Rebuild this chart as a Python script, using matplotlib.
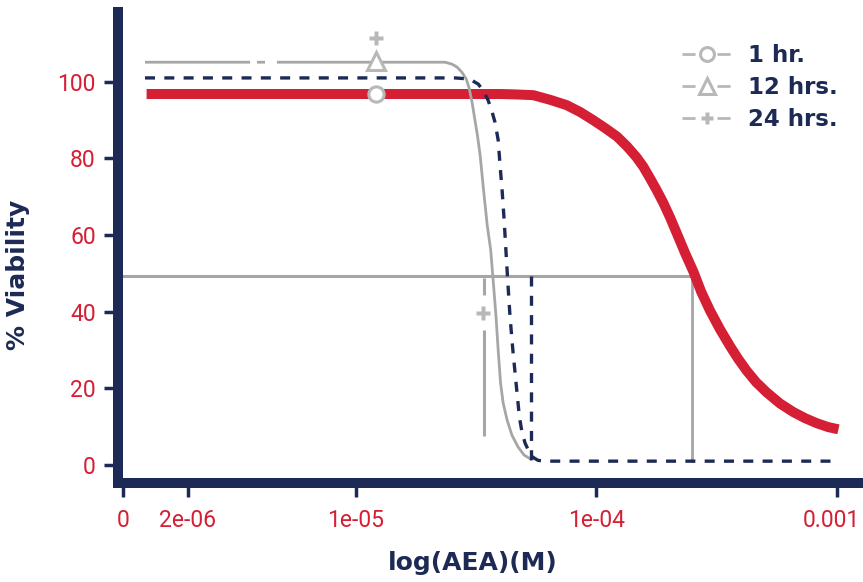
### plot.py
## dose-response chart: % viability vs log(AEA)(M), three exposure times
import matplotlib
matplotlib.use("Agg")
import matplotlib.pyplot as plt
import matplotlib.transforms as mtransforms
from matplotlib.lines import Line2D

plt.rcParams["lines.scale_dashes"] = False   # dash lengths in points, not linewidths

NAVY = "#1c2a55"
RED = "#d41f35"
GRAY = "#a6a6a6"
LIGHT = "#b8b8b8"

# red curve (thick)
red_x = [1.35e-6, 3.29e-5, 3.98e-5, 4.59e-5, 5.47e-5, 6.42e-5, 7.53e-5, 8.57e-5, 9.70e-5,
         1.089e-4, 1.22e-4, 1.344e-4, 1.47e-4, 1.57e-4, 1.67e-4, 1.78e-4, 1.90e-4, 2.03e-4,
         2.16e-4, 2.34e-4, 2.54e-4, 2.73e-4, 2.97e-4, 3.27e-4, 3.60e-4, 3.89e-4, 4.22e-4,
         4.62e-4, 5.12e-4, 5.82e-4, 6.60e-4, 7.39e-4, 8.26e-4, 9.20e-4, 1.016e-3]
red_y = [96.8, 96.8, 96.8, 96.7, 96.5, 95.3, 93.9, 92.1, 90.0,
         87.9, 85.7, 83.1, 80.3, 77.8, 74.9, 71.8, 68.4, 64.5,
         60.5, 55.3, 50.3, 45.2, 40.3, 35.4, 31.0, 27.7, 24.6,
         21.6, 18.9, 16.0, 13.8, 12.2, 10.9, 9.9, 9.3]

# gray solid curve
gray_x = [1.33e-6, 2.04e-5, 2.35e-5, 2.51e-5, 2.64e-5, 2.77e-5, 2.88e-5, 2.96e-5, 3.05e-5,
          3.13e-5, 3.21e-5, 3.29e-5, 3.40e-5, 3.52e-5, 3.64e-5, 3.74e-5, 3.83e-5, 3.91e-5,
          4.00e-5, 4.10e-5, 4.26e-5, 4.46e-5, 4.73e-5, 5.01e-5, 5.41e-5]
gray_y = [105.1, 105.1, 105.1, 104.6, 103.8, 102.4, 100.7, 98.4, 94.4,
          90.0, 85.8, 80.8, 71.7, 62.6, 56.1, 47.0, 38.7, 30.0,
          21.4, 16.2, 11.7, 7.8, 4.7, 2.6, 1.3]

# navy dashed curve
navy_x = [1.33e-6, 2.59e-5, 2.85e-5, 3.05e-5, 3.23e-5, 3.38e-5, 3.55e-5, 3.69e-5, 3.79e-5,
          3.91e-5, 3.98e-5, 4.06e-5, 4.14e-5, 4.21e-5, 4.29e-5, 4.38e-5, 4.50e-5, 4.64e-5,
          4.79e-5, 4.91e-5, 5.06e-5, 5.26e-5, 5.46e-5, 5.73e-5, 6.17e-5, 9.93e-4]
navy_y = [101.0, 101.0, 100.8, 100.3, 99.4, 97.8, 95.2, 92.1, 89.5,
          84.8, 78.3, 71.7, 63.9, 56.1, 47.5, 38.7, 30.0, 21.4,
          12.6, 8.6, 5.7, 3.4, 2.0, 1.2, 1.0, 1.0]

# 50% guide lines
half_y = 49.2
half_left = 1.027e-6
red_ic50 = 2.49e-4
navy_ic50 = 5.34e-5
gray_ic50 = 3.43e-5
guide_bottom = 1.0
gray_guide_bottom = 7.5

# single markers
mark_x = 1.21e-5
circle_y = 96.8
triangle_y = 105.3
plus_y = 111.4
plus2_x = 3.38e-5
plus2_y = 39.7

xticks = [1.074e-6, 2e-6, 1e-5, 1e-4, 1e-3]
xtick_labels = ["0", "2e-06", "1e-05", "1e-04", "0.001"]
yticks = [0, 20, 40, 60, 80, 100]
legend_labels = ["1 hr.", "12 hrs.", "24 hrs."]

W, H = 863, 582
fig = plt.figure(figsize=(W / 100, H / 100), dpi=100)
ax = fig.add_axes([118 / W, 1 - 483 / H, 744 / W, 471 / H])
ax.set_xscale("log")
ax.set_xlim(1.027e-6, 1.273e-3)
ax.set_ylim(-4.7, 118.2)

# curves
ax.plot(red_x, red_y, color=RED, lw=7.2, solid_capstyle="butt", solid_joinstyle="round",
        zorder=2)
ax.plot(gray_x, gray_y, color=GRAY, lw=2.0,
        linestyle=(0, (75.6, 5.0, 5.8, 8.6, 5000)), zorder=3)
ax.plot(navy_x, navy_y, color=NAVY, lw=2.4, linestyle=(0, (7.2, 6.7)), zorder=4)

# guides
ax.plot([half_left, red_ic50], [half_y, half_y], color=GRAY, lw=2.2, zorder=1)
ax.plot([red_ic50, red_ic50], [half_y, guide_bottom], color=GRAY, lw=2.0, zorder=1)
ax.plot([navy_ic50, navy_ic50], [half_y, guide_bottom], color=NAVY, lw=2.4,
        linestyle=(0, (7.2, 6.7)), zorder=4)
ax.plot([gray_ic50, gray_ic50], [half_y - 0.4, gray_guide_bottom], color=GRAY, lw=2.2,
        linestyle=(0, (12.2, 25.2, 1000)), zorder=3)

# markers
ax.plot([mark_x], [circle_y], marker="o", ms=11, mfc="white", mec=LIGHT, mew=2.2,
        ls="none", zorder=5)
ax.plot([mark_x], [triangle_y], marker="^", ms=13, mfc="white", mec=LIGHT, mew=2.2,
        ls="none", zorder=5)
ax.plot([mark_x], [plus_y], marker="P", ms=10, mfc=LIGHT, mec="none", ls="none", zorder=5)
ax.plot([plus2_x], [plus2_y], marker="P", ms=10, mfc=LIGHT, mec="none", ls="none", zorder=5)

# axes styling
for s in ["top", "right"]:
    ax.spines[s].set_visible(False)
for s in ["left", "bottom"]:
    ax.spines[s].set_linewidth(7.2)
    ax.spines[s].set_color(NAVY)

ax.set_xticks(xticks)
ax.set_xticklabels(xtick_labels)
ax.xaxis.set_minor_locator(matplotlib.ticker.NullLocator())
ax.set_yticks(yticks)
for lab in ax.get_xticklabels() + ax.get_yticklabels():
    lab.set_fontfamily(["Roboto", "DejaVu Sans"])
    lab.set_fontsize(16.5)
ax.tick_params(axis="both", colors=NAVY, labelcolor=RED, length=10, width=2.5)
ax.tick_params(axis="x", pad=9)
ax.tick_params(axis="y", pad=6)

# nudge last x label so it stays inside the figure
last = ax.get_xticklabels()[-1]
last.set_transform(last.get_transform()
                   + mtransforms.ScaledTranslation(-5 / 100, 0, fig.dpi_scale_trans))

ax.set_xlabel("log(AEA)(M)", fontsize=18, fontweight="bold", color=NAVY)
ax.set_ylabel("% Viability", fontsize=18, fontweight="bold", color=NAVY)
ax.xaxis.set_label_coords(0.477, -0.145)
ax.yaxis.set_label_coords(-0.118, 0.442)

# legend
handles = [
    Line2D([], [], color=LIGHT, lw=2.0, linestyle=(0, (9.4, 15.8, 9.4)), marker="o",
           ms=10, mfc="white", mec=LIGHT, mew=2.2),
    Line2D([], [], color=LIGHT, lw=2.0, linestyle=(0, (9.4, 15.8, 9.4)), marker="^",
           ms=11, mfc="white", mec=LIGHT, mew=2.2),
    Line2D([], [], color=LIGHT, lw=2.0, linestyle=(0, (9.4, 15.8, 9.4)), marker="P",
           ms=8, mfc=LIGHT, mec="none"),
]
leg = fig.legend(handles, legend_labels, loc="upper left",
                 bbox_to_anchor=(682 / W, 1 - 44 / H), bbox_transform=fig.transFigure,
                 frameon=False, borderpad=0, borderaxespad=0, handlelength=2.16,
                 handletextpad=0.72, labelspacing=0.4, numpoints=1,
                 prop={"size": 16.5, "weight": "bold"})
for t in leg.get_texts():
    t.set_color(NAVY)

fig.savefig("out.png", dpi=100)
